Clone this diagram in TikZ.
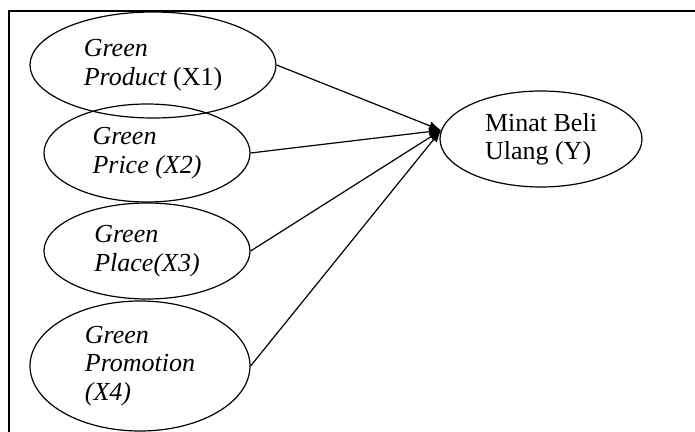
\documentclass[tikz,border=0pt]{standalone}
\usepackage{fontspec}
\setmainfont{Liberation Serif}
\usepackage{tikz}
\usetikzlibrary{arrows.meta, shapes.geometric}

\begin{document}
\begin{tikzpicture}[
  x=0.5pt, y=-0.5pt,
  var/.style={draw, ellipse, inner sep=0pt, align=left, line width=0.6pt,
    font=\fontsize{13}{14.2}\selectfont\itshape},
  dep/.style={var, font=\fontsize{13}{14.2}\selectfont},
  arrow/.style={-{Latex[length=6pt, width=4.5pt]}, line width=0.6pt}
]
\useasboundingbox (0,0) rectangle (695,432);
% frame, only top and left edge
\draw[line width=0.7pt] (9,432) -- (9,11) -- (695,11);

\node[var, minimum width=123pt, minimum height=53pt] (x1) at (153,65) {Green\\Product \upshape(X1)};
\node[var, minimum width=103pt, minimum height=49pt] (x2) at (147,153) {Green\\Price (X2)};
\node[var, minimum width=103pt, minimum height=48pt] (x3) at (147,251) {Green\\Place(X3)};
\node[var, minimum width=110pt, minimum height=65pt] (x4) at (140,366) {Green\\Promotion\\(X4)};
\node[dep, minimum width=101pt, minimum height=48pt] (y) at (541,139) {Minat Beli\\Ulang (Y)};

\draw[arrow] (x1.east) -- (y.175);
\draw[arrow] (x2.east) -- (y.175);
\draw[arrow] (x3.east) -- (y.175);
\draw[arrow] (x4.east) -- (y.175);
\end{tikzpicture}
\end{document}
